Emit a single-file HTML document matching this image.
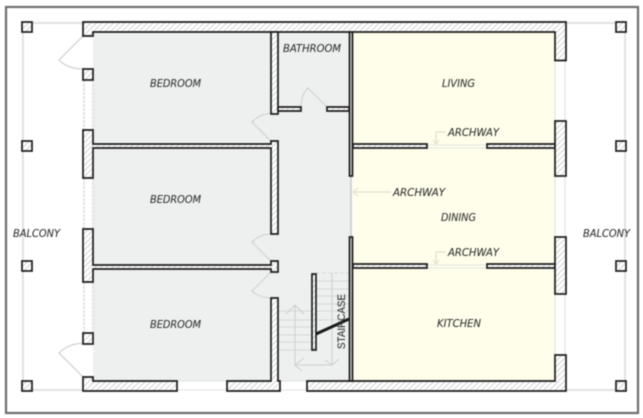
<!DOCTYPE html>
<html><head><meta charset="utf-8"><style>
html,body{margin:0;padding:0;background:#fff;width:643px;height:418px;overflow:hidden}
svg{display:block;filter:blur(0.45px)}
text{font-family:"DejaVu Sans","Liberation Sans",sans-serif;font-style:italic;font-size:11px;fill:#333;stroke:#333;stroke-width:.1;dominant-baseline:middle}
.w{fill:url(#h);stroke:#1c1c1c;stroke-width:1.7}
.d{fill:none;stroke:#d4d4d4;stroke-width:1.3}
.t{stroke:#d6d6d6;stroke-width:1;fill:none}
.g{stroke:#e2e2e2;stroke-width:2;fill:none}
</style></head><body>
<svg width="643" height="418" viewBox="0 0 643 418" xmlns="http://www.w3.org/2000/svg">
<defs><pattern id="h" width="4" height="4" patternUnits="userSpaceOnUse" patternTransform="rotate(45)"><rect width="4" height="4" fill="#fff"/><line x1="0" y1="0" x2="0" y2="4" stroke="#c8c8c8" stroke-width="1.6"/></pattern></defs>
<rect x="6" y="7" width="632" height="406" fill="#fff" stroke="#6f6f6f" stroke-width="2.2"/>
<!-- floors -->
<rect x="93" y="32" width="257" height="349" fill="#eef0f0"/>
<rect x="353" y="32" width="202" height="349" fill="#fffeea"/>
<!-- balcony & glazing lines -->
<path class="g" d="M23 32V381M625 32V381"/>
<path class="g" d="M32 23H83M566 23H616M32 390H83M566 390H616"/>
<path class="g" d="M84 80V130M84 178V229M84 282V333M93 80V130M93 178V229M93 282V333" stroke-dasharray="3 1"/>
<path class="g" d="M555 60V121M555 176V237M555 294V355M565 60V121M565 176V237M565 294V355" style="stroke-width:1.2"/>
<path class="g" d="M177 381H227M177 390H227M280 381H307M280 390H307" style="stroke-width:1"/>
<path class="g" d="M351 176V237" style="stroke:#d2d2d2"/>
<path class="g" d="M427 145H487M427 148H487M427 265H487M427 268H487" style="stroke-width:1"/>
<!-- stairs -->
<path class="t" d="M278 311H312M278 320H312M278 327H312M278 335H312M278 342H312M278 350H312M316 281H349M316 289H349M316 296H349M316 304H349M316 311H349M316 320H349"/>
<path class="t" d="M316 273H349" stroke-dasharray="4 2"/>
<path class="t" d="M295 305V365H332V273" style="stroke:#cdcdcd"/>
<path class="t" d="M286 314L295 305L304 314M304 358L295 365L302 371M325 360L332 365L339 359" style="stroke:#cdcdcd"/>
<!-- doors -->
<path class="d" d="M83 36L59 60Q68 69 83 69M83 377L59 353Q68 344 83 343M271 141L252 122Q260 114 271 113M271 261L252 242Q260 234 271 234M271 272L252 291Q260 298 271 298M327 107L308 88Q301 95 301 107"/>
<!-- walls -->
<path class="w" d="M83 22H566V60.5H555V32H93V36H83Z"/>
<path class="w" d="M83 391V377H93V381H177V391Z"/>
<path class="w" d="M227 391V381H271V298H278V381H280V391Z"/>
<path class="w" d="M307 391V381H555V355H566V391Z"/>
<rect x="83" y="69" width="10" height="11" class="w"/>
<path class="w" d="M83 130H93V144H271V141H278V234H271V148H93V178H83Z"/>
<path class="w" d="M83 229H93V265H271V261H278V272H271V269H93V282H83Z"/>
<rect x="83" y="333" width="10" height="11" class="w"/>
<rect x="271" y="32" width="7" height="82" class="w"/>
<path class="w" d="M278 107H301V111H278Z"/>
<path class="w" d="M327 107H349V111H327Z"/>
<rect x="349.5" y="32" width="3" height="144" class="w" style="fill:#ddd"/>
<rect x="349.5" y="237" width="3" height="144" class="w" style="fill:#ddd"/>
<path class="w" d="M353 144H427V148H353Z"/>
<path class="w" d="M487 144H555V148H487Z"/>
<path class="w" d="M353 264H427V268H353Z"/>
<path class="w" d="M487 264H555V268H487Z"/>
<rect x="555" y="121" width="11" height="55" class="w"/>
<rect x="555" y="237" width="11" height="57" class="w"/>
<rect x="312" y="274" width="4" height="76" class="w"/>
<!-- posts -->
<g class="w">
<rect x="22" y="22" width="10" height="10"/><rect x="22" y="141" width="10" height="10"/><rect x="22" y="261" width="10" height="10"/><rect x="22" y="381" width="10" height="10"/>
<rect x="616" y="22" width="10" height="10"/><rect x="616" y="141" width="10" height="10"/><rect x="616" y="261" width="10" height="10"/><rect x="616" y="381" width="10" height="10"/>
</g>
<!-- archway leaders -->
<path d="M391 192H353M353 192L358 188M353 192L358 196M446 132H436V144M436 144L433 140M436 144L439 140M446 252H436V264M436 264L433 260M436 264L439 260" fill="none" stroke="#dcdccc" stroke-width="1"/>
<!-- stair cut -->
<line x1="316" y1="334" x2="349" y2="319" stroke="#1a1a1a" stroke-width="3"/>
<!-- labels -->
<g transform="translate(0,1)">
<text x="150" y="83" textLength="51" lengthAdjust="spacingAndGlyphs">BEDROOM</text>
<text x="150" y="199" textLength="51" lengthAdjust="spacingAndGlyphs">BEDROOM</text>
<text x="150" y="324" textLength="51" lengthAdjust="spacingAndGlyphs">BEDROOM</text>
<text x="283" y="48" textLength="58" lengthAdjust="spacingAndGlyphs">BATHROOM</text>
<text x="442" y="83" textLength="33" lengthAdjust="spacingAndGlyphs">LIVING</text>
<text x="441" y="217" textLength="35" lengthAdjust="spacingAndGlyphs">DINING</text>
<text x="437" y="323" textLength="44" lengthAdjust="spacingAndGlyphs">KITCHEN</text>
<text x="448" y="132" textLength="51" lengthAdjust="spacingAndGlyphs">ARCHWAY</text>
<text x="393" y="192" textLength="52" lengthAdjust="spacingAndGlyphs">ARCHWAY</text>
<text x="448" y="252" textLength="51" lengthAdjust="spacingAndGlyphs">ARCHWAY</text>
<text x="13" y="233" textLength="47" lengthAdjust="spacingAndGlyphs">BALCONY</text>
<text x="583" y="233" textLength="47" lengthAdjust="spacingAndGlyphs">BALCONY</text>
</g>
<text transform="translate(342,349) rotate(-90)" x="0" y="0" textLength="55" lengthAdjust="spacingAndGlyphs" style="font-style:normal;font-family:'Liberation Sans',sans-serif">STAIRCASE</text>
</svg>
</body></html>
